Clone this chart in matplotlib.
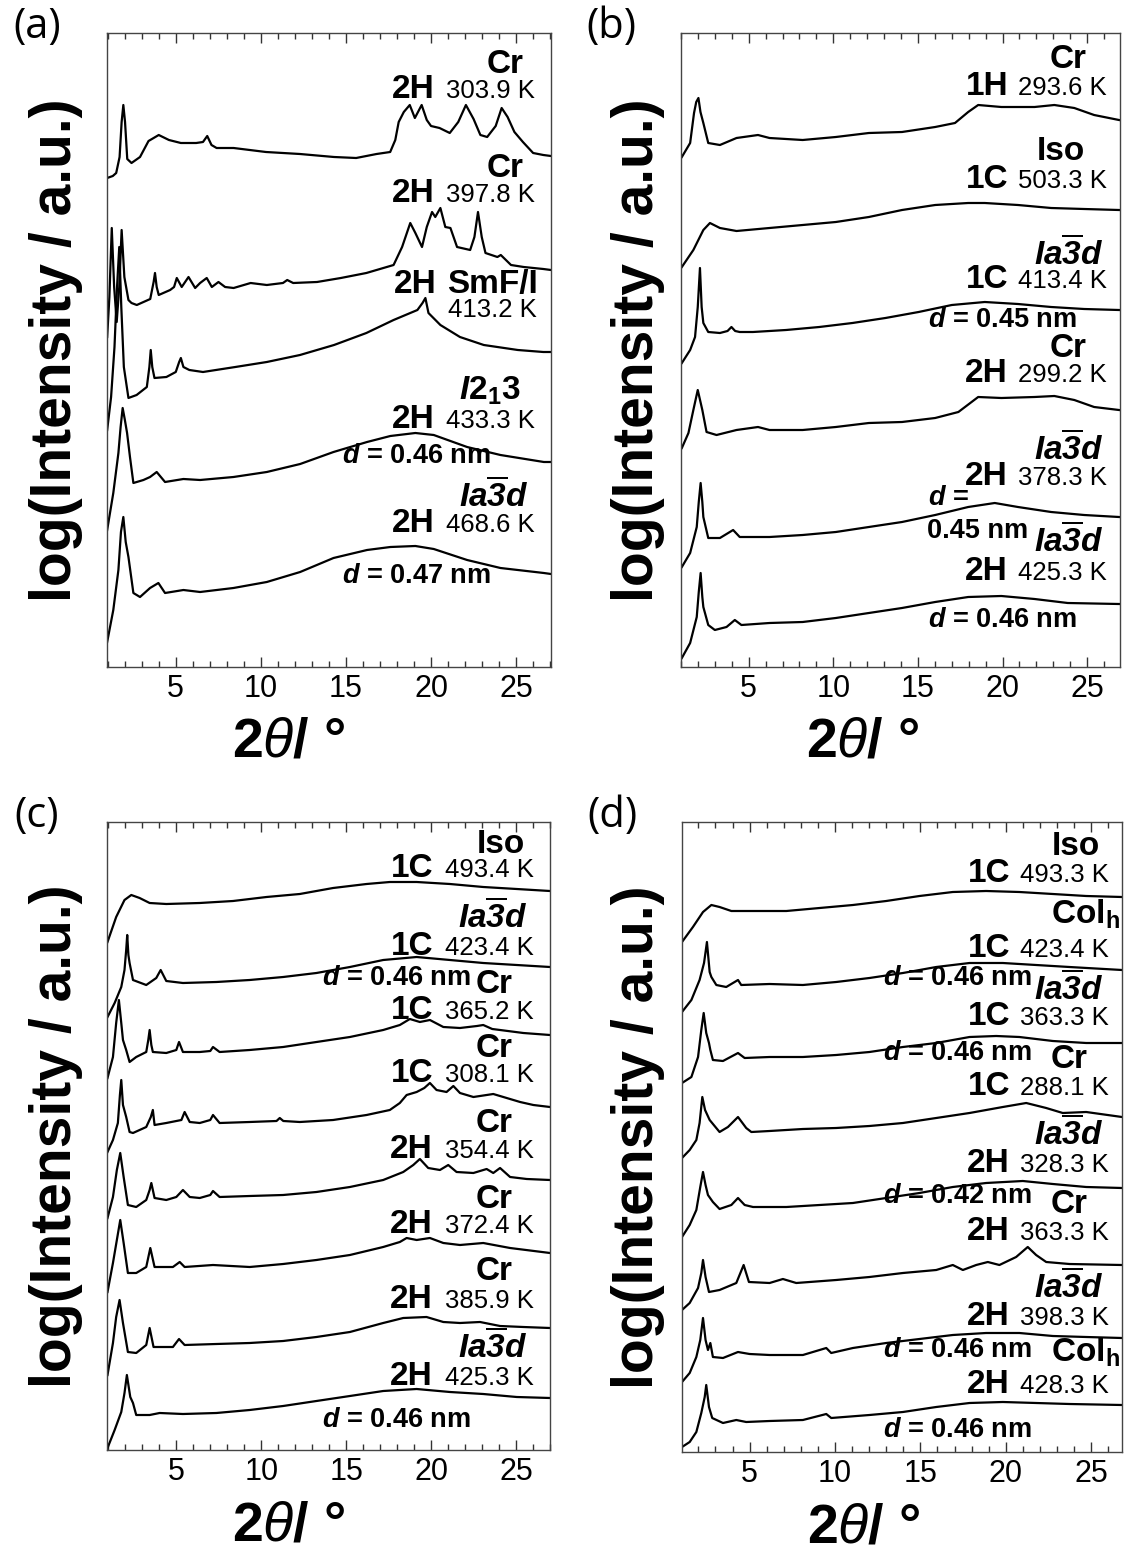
import matplotlib
matplotlib.use("Agg")
import matplotlib.pyplot as plt
from matplotlib.ticker import MultipleLocator

# XRD patterns, four panels; intensities are arbitrary (stacked offsets)
plt.rcParams['font.family'] = ['Liberation Sans', 'DejaVu Sans']
plt.rcParams['mathtext.fontset'] = 'custom'
# digits inside \mathit fall back to the rm slot, so rm is bold italic here too
plt.rcParams['mathtext.rm'] = 'Liberation Sans:italic:bold'
plt.rcParams['mathtext.it'] = 'Liberation Sans:italic:bold'
plt.rcParams['mathtext.bf'] = 'Liberation Sans:bold'
plt.rcParams['mathtext.sf'] = 'Liberation Sans:italic'

W, H = 1126, 1551

# ---------------- panel (a) ----------------
tth_a1 = [0.97, 1.3, 1.5, 1.7, 1.82, 1.92, 2.02, 2.15, 2.4, 2.9, 3.4, 4.0, 4.6, 5.3, 6.2, 6.6, 6.85, 7.1, 7.4, 8.4,
          10.3, 12.3, 14.3, 15.6, 16.8, 17.6, 17.9, 18.1, 18.4, 18.75, 19.05, 19.45, 19.75, 20.0, 20.5, 21.1, 21.6,
          22.05, 22.5, 22.9, 23.3, 23.8, 24.15, 24.5, 24.9, 25.4, 26.0, 26.6, 27.05]
int_a1 = [489, 491, 494, 510, 545, 562, 545, 508, 504, 510, 526, 532, 527, 524, 524, 525, 531, 522, 519, 519,
          515, 513, 510, 509, 513, 515, 527, 545, 555, 562, 549, 562, 547, 541, 539, 534, 545,
          562, 548, 532, 530, 541, 559, 550, 535, 525, 514, 512, 511]
tth_a2 = [0.97, 1.1, 1.24, 1.38, 1.53, 1.68, 1.82, 1.98, 2.22, 2.4, 2.71, 3.5, 3.7, 3.78, 3.88, 4.0, 4.67, 4.9, 5.06,
          5.35, 5.75, 6.14, 6.43, 6.82, 7.12, 7.51, 7.9, 8.4, 9.4, 10.35, 11.3, 11.55, 11.9, 13.3, 14.7, 16.2, 17.2,
          17.8, 18.3, 18.78, 19.08, 19.47, 19.75, 20.06, 20.25, 20.55, 20.84, 21.14, 21.53, 22.3, 22.55, 22.76,
          22.98, 23.2, 23.9, 24.1, 24.7, 25.45, 26.6, 27.05]
int_a2 = [330, 370, 439, 380, 345, 380, 437, 390, 367, 364, 362, 368, 385, 394, 380, 372, 377, 380, 389,
          380, 390, 379, 384, 389, 380, 385, 380, 379, 384, 382, 384, 387, 384, 385, 389, 394, 399,
          402, 420, 444, 434, 420, 440, 455, 450, 459, 440, 439, 420, 417, 430, 455,
          430, 414, 410, 412, 402, 400, 398, 397]
tth_a3 = [0.97, 1.2, 1.4, 1.55, 1.68, 1.8, 1.95, 2.22, 2.7, 3.3, 3.45, 3.53, 3.62, 3.75, 4.45, 5.0, 5.2, 5.3, 5.45,
          5.8, 6.6, 8.5, 10.35, 12.3, 14.3, 16.2, 17.8, 19.2, 19.5, 19.67, 19.85, 20.55, 21.7, 23.1, 25.1, 26.6, 27.05]
int_a3 = [237, 270, 320, 380, 420, 360, 300, 269, 272, 280, 300, 317, 300, 289, 290, 295, 305, 309, 300,
          297, 295, 300, 305, 312, 322, 334, 347, 357, 364, 369, 354, 342, 330, 322, 317, 315, 315]
tth_a4 = [0.97, 1.33, 1.63, 1.76, 1.88, 2.0, 2.14, 2.31, 2.51, 3.1, 3.49, 3.88, 4.37, 5.45, 6.43, 8.39, 10.35,
          12.31, 14.27, 16.24, 17.61, 19.08, 20.16, 22.12, 24.08, 26.63, 27.05]
int_a4 = [137, 174, 214, 240, 259, 248, 234, 210, 184, 187, 190, 195, 185, 188, 187, 190, 195,
          203, 215, 225, 231, 234, 232, 220, 212, 205, 205]
tth_a5 = [0.97, 1.33, 1.63, 1.78, 1.92, 2.06, 2.22, 2.51, 2.9, 3.49, 3.98, 4.37, 5.45, 6.43, 8.39, 10.35, 12.31,
          14.27, 16.24, 17.61, 19.08, 20.16, 22.12, 24.08, 26.63, 27.05]
int_a5 = [25, 57, 97, 135, 150, 125, 110, 74, 70, 79, 84, 74, 77, 75, 79, 85, 95,
          109, 117, 120, 121, 118, 107, 99, 94, 93]

# ---------------- panel (b) ----------------
tth_b1 = [1.05, 1.54, 1.77, 1.9, 2.03, 2.15, 2.32, 2.61, 3.3, 4.28, 5.55, 6.23, 8.19, 10.15, 12.1, 14.06, 16.02,
          17.19, 17.97, 18.56, 19.93, 21.89, 23.06, 24.24, 25.41, 26.88]
int_b1 = [510, 524, 554, 565, 569, 555, 544, 524, 522, 529, 532, 529, 527, 530, 534, 535, 540,
          544, 555, 562, 560, 560, 562, 559, 552, 547]
tth_b2 = [1.05, 1.73, 2.32, 2.71, 3.3, 4.28, 6.23, 8.19, 10.15, 12.1, 14.06, 16.02, 17.97, 18.95, 20.91, 22.87,
          24.82, 26.88]
int_b2 = [400, 417, 437, 444, 439, 436, 439, 442, 445, 450, 457, 462, 464, 464, 462, 459, 458, 457]
tth_b3 = [1.05, 1.54, 1.83, 1.99, 2.12, 2.22, 2.32, 2.61, 3.3, 3.75, 3.98, 4.2, 4.47, 5.25, 7.21, 9.17, 11.13,
          13.08, 15.04, 17.0, 18.95, 20.91, 22.87, 24.82, 26.88]
int_b3 = [304, 317, 330, 360, 399, 360, 344, 335, 334, 336, 340, 336, 335, 335, 337, 340, 344,
          349, 355, 362, 365, 363, 360, 358, 357]
tth_b4 = [1.05, 1.44, 1.73, 1.99, 2.26, 2.51, 3.1, 4.28, 5.55, 6.23, 8.19, 10.15, 12.1, 14.06, 16.02, 17.39,
          18.17, 18.56, 19.93, 21.89, 23.06, 24.24, 25.41, 26.88]
int_b4 = [219, 234, 257, 277, 257, 235, 232, 237, 240, 237, 237, 240, 244, 245, 249, 255,
          265, 270, 269, 270, 271, 267, 260, 257]
tth_b5 = [1.05, 1.54, 1.93, 2.05, 2.16, 2.26, 2.32, 2.61, 3.3, 4.08, 4.47, 6.23, 8.19, 10.15, 12.1, 14.06, 16.02,
          17.97, 19.54, 20.91, 22.87, 24.82, 26.88]
int_b5 = [100, 114, 140, 165, 184, 165, 150, 129, 129, 137, 130, 130, 132, 135, 140, 145, 152,
          160, 164, 160, 155, 152, 150]
tth_b6 = [1.05, 1.54, 1.93, 2.05, 2.16, 2.26, 2.32, 2.61, 3.0, 3.69, 4.18, 4.57, 6.23, 8.19, 10.15, 12.1, 14.06,
          16.02, 17.97, 19.93, 21.89, 23.85, 26.88]
int_b6 = [9, 24, 50, 75, 94, 70, 60, 42, 37, 40, 47, 42, 44, 45, 49, 54, 59,
          65, 70, 71, 68, 64, 63]

# ---------------- panel (c) ----------------
tth_c1 = [0.95, 1.46, 1.95, 2.35, 2.84, 3.43, 4.41, 6.38, 8.34, 10.31, 12.27, 14.23, 16.2, 17.57, 19.15, 21.11,
          23.07, 25.04, 27.0]
int_c1 = [508, 533, 550, 555, 552, 547, 546, 547, 549, 553, 556, 562, 566, 568, 568, 566, 563, 561, 559]
tth_c2 = [0.95, 1.37, 1.76, 1.95, 2.05, 2.11, 2.18, 2.25, 2.45, 3.23, 3.82, 4.08, 4.41, 5.39, 7.36, 9.32, 11.29,
          13.25, 15.22, 17.18, 19.15, 21.11, 23.07, 25.04, 27.0]
int_c2 = [433, 447, 463, 480, 500, 515, 495, 487, 470, 465, 472, 480, 469, 467, 468, 470, 473,
          477, 483, 490, 493, 490, 487, 485, 483]
tth_c3 = [0.95, 1.27, 1.46, 1.62, 1.76, 1.86, 2.05, 2.25, 2.64, 3.23, 3.35, 3.43, 3.53, 3.62, 4.41, 5.0, 5.16,
          5.39, 6.38, 7.0, 7.16, 7.55, 9.32, 11.29, 13.25, 15.22, 17.18, 18.16, 18.75, 19.34, 19.93, 20.72, 21.7,
          22.7, 23.07, 23.6, 24.06, 25.43, 27.0]
int_c3 = [372, 393, 427, 450, 427, 410, 400, 388, 393, 398, 410, 420, 405, 398, 397, 400, 408,
          398, 398, 399, 403, 398, 400, 403, 408, 413, 420, 425, 431, 428, 430, 423, 422,
          424, 425, 421, 420, 417, 415]
tth_c4 = [0.95, 1.27, 1.56, 1.68, 1.76, 1.86, 2.05, 2.25, 2.45, 3.23, 3.5, 3.62, 3.72, 4.41, 5.3, 5.49, 5.79,
          6.38, 7.0, 7.16, 7.55, 9.32, 10.9, 11.09, 11.3, 12.27, 14.23, 16.2, 17.57, 18.16, 18.56, 19.15, 19.6,
          19.93, 20.32, 20.91, 21.31, 21.7, 22.49, 23.66, 24.45, 25.24, 26.02, 27.0]
int_c4 = [298, 310, 327, 355, 370, 345, 333, 318, 317, 323, 333, 340, 325, 327, 330, 338, 328,
          327, 330, 335, 327, 328, 329, 332, 329, 328, 330, 335, 340, 347, 355, 358, 362,
          367, 360, 358, 364, 357, 353, 356, 352, 348, 345, 343]
tth_c5 = [0.95, 1.27, 1.5, 1.7, 1.9, 2.15, 2.64, 3.23, 3.43, 3.53, 3.72, 4.41, 5.0, 5.39, 5.79, 6.38, 7.0, 7.16,
          7.55, 9.32, 11.29, 13.25, 15.22, 17.18, 18.36, 18.95, 19.34, 19.83, 20.52, 21.01, 21.5, 22.49, 23.27,
          23.66, 24.06, 24.65, 25.63, 27.0]
int_c5 = [232, 253, 280, 297, 273, 245, 243, 250, 260, 267, 252, 250, 253, 260, 253, 252, 255, 259,
          253, 254, 255, 258, 263, 270, 278, 285, 291, 282, 280, 285, 278, 277, 281,
          277, 282, 273, 271, 270]
tth_c6 = [0.95, 1.27, 1.5, 1.7, 1.9, 2.15, 2.64, 3.23, 3.47, 3.72, 4.8, 5.2, 5.49, 7.16, 9.32, 11.29, 13.25,
          15.22, 17.18, 18.16, 18.56, 19.15, 19.93, 20.72, 21.7, 23.07, 24.65, 27.0]
int_c6 = [158, 187, 210, 230, 207, 177, 177, 183, 202, 183, 183, 188, 183, 185, 183, 186, 190,
          195, 203, 208, 212, 210, 212, 207, 205, 207, 202, 197]
tth_c7 = [0.95, 1.27, 1.46, 1.66, 1.86, 2.15, 2.64, 3.23, 3.43, 3.66, 4.8, 5.16, 5.49, 7.36, 9.32, 11.29, 13.25,
          15.22, 17.18, 18.36, 19.73, 20.72, 21.7, 22.88, 24.06, 25.43, 27.0]
int_c7 = [75, 107, 133, 150, 127, 98, 97, 105, 122, 103, 103, 111, 105, 106, 107, 109, 113,
          118, 127, 132, 133, 128, 127, 128, 124, 123, 122]
tth_c8 = [0.95, 1.37, 1.76, 1.95, 2.09, 2.29, 2.45, 2.64, 3.43, 4.02, 5.39, 7.36, 9.32, 11.29, 13.25, 15.22,
          17.18, 19.15, 21.11, 23.07, 25.04, 27.0]
int_c8 = [2, 20, 38, 57, 75, 53, 47, 35, 35, 37, 36, 37, 40, 44, 49, 54, 59, 61, 58, 56, 53, 52]

# ---------------- panel (d) ----------------
tth_d1 = [1.04, 1.68, 2.27, 2.76, 3.24, 3.93, 5.2, 7.15, 9.1, 11.05, 13.0, 14.95, 16.9, 18.85, 20.8, 22.76,
          24.71, 26.81]
int_d1 = [510, 525, 540, 547, 545, 541, 541, 541, 544, 547, 551, 556, 560, 561, 560, 558, 556, 555]
tth_d2 = [1.04, 1.59, 2.07, 2.33, 2.42, 2.5, 2.58, 2.66, 2.76, 3.05, 3.63, 4.32, 4.51, 6.17, 8.12, 10.07, 12.02,
          13.98, 15.93, 17.88, 19.83, 21.78, 23.73, 26.81]
int_d2 = [440, 452, 472, 489, 500, 510, 495, 480, 475, 467, 465, 472, 467, 468, 467, 470, 474,
          479, 485, 489, 489, 487, 485, 482]
tth_d3 = [1.04, 1.59, 1.98, 2.17, 2.31, 2.46, 2.62, 2.7, 2.85, 3.44, 4.32, 4.71, 6.17, 8.12, 10.07, 12.02, 13.98,
          15.93, 17.88, 19.44, 20.8, 22.76, 24.71, 26.81]
int_d3 = [369, 375, 395, 422, 439, 419, 409, 402, 392, 391, 399, 394, 395, 395, 397, 400, 405,
          409, 415, 416, 415, 411, 409, 409]
tth_d4 = [1.04, 1.49, 1.88, 2.07, 2.23, 2.39, 2.66, 3.24, 3.73, 4.32, 4.8, 5.1, 6.17, 8.12, 10.07, 12.02, 13.98,
          15.93, 17.88, 19.83, 21.2, 22.37, 23.34, 24.71, 26.81]
int_d4 = [294, 302, 312, 329, 355, 342, 332, 320, 325, 335, 324, 320, 321, 323, 324, 326, 329,
          334, 339, 345, 349, 344, 339, 340, 335]
tth_d5 = [1.04, 1.49, 1.88, 2.11, 2.27, 2.42, 2.56, 2.85, 3.24, 3.93, 4.32, 4.71, 5.2, 7.15, 9.1, 11.05, 13.0,
          14.95, 16.9, 18.85, 21.0, 22.76, 24.71, 26.81]
int_d5 = [215, 227, 242, 265, 280, 267, 257, 250, 243, 247, 254, 247, 245, 245, 247, 249, 254,
          259, 265, 269, 271, 268, 265, 264]
tth_d6 = [1.04, 1.49, 1.98, 2.17, 2.27, 2.42, 2.62, 3.24, 4.22, 4.65, 4.96, 6.17, 6.95, 7.73, 10.07, 12.02, 13.98,
          15.93, 16.51, 16.9, 17.49, 18.27, 18.95, 19.63, 20.61, 21.29, 21.78, 22.37, 23.73, 26.81]
int_d6 = [142, 149, 164, 179, 192, 175, 160, 162, 169, 187, 170, 169, 173, 169, 172, 175, 179,
          182, 185, 187, 182, 187, 190, 187, 195, 205, 197, 190, 188, 187]
tth_d7 = [1.04, 1.49, 1.88, 2.11, 2.27, 2.42, 2.56, 2.7, 2.85, 3.44, 4.32, 5.0, 6.17, 8.12, 9.49, 9.78, 11.05,
          13.0, 14.95, 16.9, 18.85, 20.8, 22.76, 24.71, 26.81]
int_d7 = [70, 79, 95, 112, 134, 112, 102, 109, 95, 94, 100, 98, 97, 97, 104, 99, 104,
          109, 113, 117, 119, 119, 116, 115, 114]
tth_d8 = [1.04, 1.49, 1.88, 2.17, 2.37, 2.46, 2.62, 2.81, 3.44, 4.22, 4.8, 6.17, 8.12, 9.49, 9.78, 12.02, 13.98,
          15.93, 17.88, 19.83, 21.78, 23.73, 26.81]
int_d8 = [5, 10, 20, 39, 55, 67, 45, 34, 29, 32, 30, 31, 32, 38, 34, 37, 40, 45, 49, 50, 49, 48, 47]

# labels (phase, sample, temperature, d-spacing)
IA3D = r"$\mathit{Ia\overline{3}d}$"
I213 = r"$\mathit{I}\mathbf{2}_{\mathbf{1}}\mathbf{3}$"
COLH = r"$\mathbf{Col}_{\mathbf{h}}$"

phase_a = ["Cr", "Cr", I213, IA3D]
samp_a = ["2H", "2H", "2H", "2H"]
temp_a = ["303.9 K", "397.8 K", "433.3 K", "468.6 K"]
dsp_a = ["0.46", "0.47"]

phase_b = ["Cr", "Iso", IA3D, "Cr", IA3D, IA3D]
samp_b = ["1H", "1C", "1C", "2H", "2H", "2H"]
temp_b = ["293.6 K", "503.3 K", "413.4 K", "299.2 K", "378.3 K", "425.3 K"]
dsp_b = ["0.45", "0.46"]

phase_c = ["Iso", IA3D, "Cr", "Cr", "Cr", "Cr", "Cr", IA3D]
samp_c = ["1C", "1C", "1C", "1C", "2H", "2H", "2H", "2H"]
temp_c = ["493.4 K", "423.4 K", "365.2 K", "308.1 K", "354.4 K", "372.4 K", "385.9 K", "425.3 K"]
dsp_c = ["0.46", "0.46"]

phase_d = ["Iso", COLH, IA3D, "Cr", IA3D, "Cr", IA3D, COLH]
samp_d = ["1C", "1C", "1C", "1C", "2H", "2H", "2H", "2H"]
temp_d = ["493.3 K", "423.4 K", "363.3 K", "288.1 K", "328.3 K", "363.3 K", "398.3 K", "428.3 K"]
dsp_d = ["0.46", "0.46", "0.42", "0.46", "0.46"]

fig = plt.figure(figsize=(W / 100, H / 100), dpi=100)
fig.patch.set_facecolor("white")


def put(x, y, s, size, ha="left", weight="normal", **kw):
    """Place text by pixel position (x from left, y baseline from top)."""
    fig.text(x / W, 1 - y / H, s, ha=ha, va="baseline", fontsize=size, fontweight=weight, **kw)


def add_panel(box, xlim, ylim, curves, letter):
    l, t, r, b = box
    ax = fig.add_axes([l / W, 1 - b / H, (r - l) / W, (b - t) / H])
    for x, y in curves:
        ax.plot(x, y, color="black", lw=1.6, solid_joinstyle="round")
    ax.set_xlim(*xlim)
    ax.set_ylim(*ylim)
    ax.set_yticks([])
    ax.xaxis.set_major_locator(MultipleLocator(5))
    ax.xaxis.set_minor_locator(MultipleLocator(1))
    ax.tick_params(axis="x", which="both", direction="in", top=True, bottom=True, labelsize=22, pad=5,
                   color="#333333")
    ax.tick_params(axis="x", which="major", length=7, width=1.0)
    ax.tick_params(axis="x", which="minor", length=4, width=1.0)
    for sp in ax.spines.values():
        sp.set_linewidth(1.0)
        sp.set_color("#444444")
    # y label, x label, panel letter
    cy = (t + b) / 2
    fig.text(56 / W if l < 500 else 638 / W, 1 - cy / H, "log(Intensity / a.u.)", rotation=90,
             ha="center", va="center", fontsize=41, fontweight="bold")
    fig.text((l + 182) / W, 1 - (b + 76) / H, r"$\mathbf{2}\mathsf{\theta}$/ °", ha="center", va="center",
             fontsize=40, fontweight="bold")
    fig.text((l - 70) / W, 1 - (t - 6) / H, letter, ha="center", va="center", fontsize=30,
             family=["Open Sans", "DejaVu Sans"])
    return ax


add_panel((107, 33, 551, 667), (0.96, 27.05), (0, 634),
          [(tth_a1, int_a1), (tth_a2, int_a2), (tth_a3, int_a3), (tth_a4, int_a4), (tth_a5, int_a5)], "(a)")
add_panel((681, 33, 1120, 667), (1.0, 26.94), (0, 634),
          [(tth_b1, int_b1), (tth_b2, int_b2), (tth_b3, int_b3), (tth_b4, int_b4), (tth_b5, int_b5),
           (tth_b6, int_b6)], "(b)")
add_panel((107, 822, 550, 1450), (0.92, 27.0), (0, 628),
          [(tth_c1, int_c1), (tth_c2, int_c2), (tth_c3, int_c3), (tth_c4, int_c4), (tth_c5, int_c5),
           (tth_c6, int_c6), (tth_c7, int_c7), (tth_c8, int_c8)], "(c)")
add_panel((682, 822, 1122, 1452), (1.04, 26.81), (0, 630),
          [(tth_d1, int_d1), (tth_d2, int_d2), (tth_d3, int_d3), (tth_d4, int_d4), (tth_d5, int_d5),
           (tth_d6, int_d6), (tth_d7, int_d7), (tth_d8, int_d8)], "(d)")

PH, SM, TP, DS = 24, 24, 18.5, 19.5


def label_panel(phases, phase_pos, samps, temps, samp_y, samp_right, temp_left):
    for s, (x, y) in zip(phases, phase_pos):
        put(x, y, s, PH, ha="right", weight="bold")
    for s, tp, y in zip(samps, temps, samp_y):
        put(samp_right, y, s, SM, ha="right", weight="bold")
        put(temp_left, y, tp, TP)


def d_label(x, y, val):
    put(x, y, r"$d$ = " + val + " nm", DS, weight="bold")


# (a)
label_panel(phase_a, [(524, 72.7), (524, 176.7), (520, 400), (528, 506.7)],
            samp_a, temp_a, [98, 201.7, 428.3, 531.7], 435, 446)
put(437, 293.3, "2H", SM, ha="right", weight="bold")
put(447, 293.3, "SmF/I", SM, weight="bold")
put(537, 316.7, "413.2 K", TP, ha="right")
d_label(342, 463.3, dsp_a[0])
d_label(342, 583.3, dsp_a[1])

# (b)
label_panel(phase_b, [(1087, 68.3), (1085, 160), (1103, 265), (1087, 356.7), (1103, 460), (1103, 551.7)],
            samp_b, temp_b, [95, 188.3, 288.3, 381.7, 485, 580], 1008, 1018)
d_label(928, 326.7, dsp_b[0])
put(928, 505, r"$d$ =", DS, weight="bold")
put(927, 538.3, dsp_b[0] + " nm", DS, weight="bold")
d_label(928, 626.7, dsp_b[1])

# (c)
label_panel(phase_c, [(525, 853.3), (527, 928.3), (513, 993.3), (513, 1056.7), (513, 1131.7), (513, 1208.3),
                      (513, 1280), (527, 1358.3)],
            samp_c, temp_c, [876.7, 955, 1019.3, 1081.7, 1158.3, 1233.3, 1308.3, 1385], 433, 445)
d_label(322, 985, dsp_c[0])
d_label(322, 1426.7, dsp_c[1])

# (d)
label_panel(phase_d, [(1100, 855), (1120, 923.3), (1103, 1000), (1088, 1068.3), (1103, 1145), (1088, 1213.3),
                      (1103, 1298.3), (1120, 1361.7)],
            samp_d, temp_d, [881.7, 956.7, 1025, 1095, 1171.7, 1240, 1325, 1393.3], 1010, 1020)
for val, y in zip(dsp_d, [985, 1060, 1203.3, 1356.7, 1436.7]):
    d_label(883, y, val)

fig.savefig("out.png", dpi=100, facecolor="white")
